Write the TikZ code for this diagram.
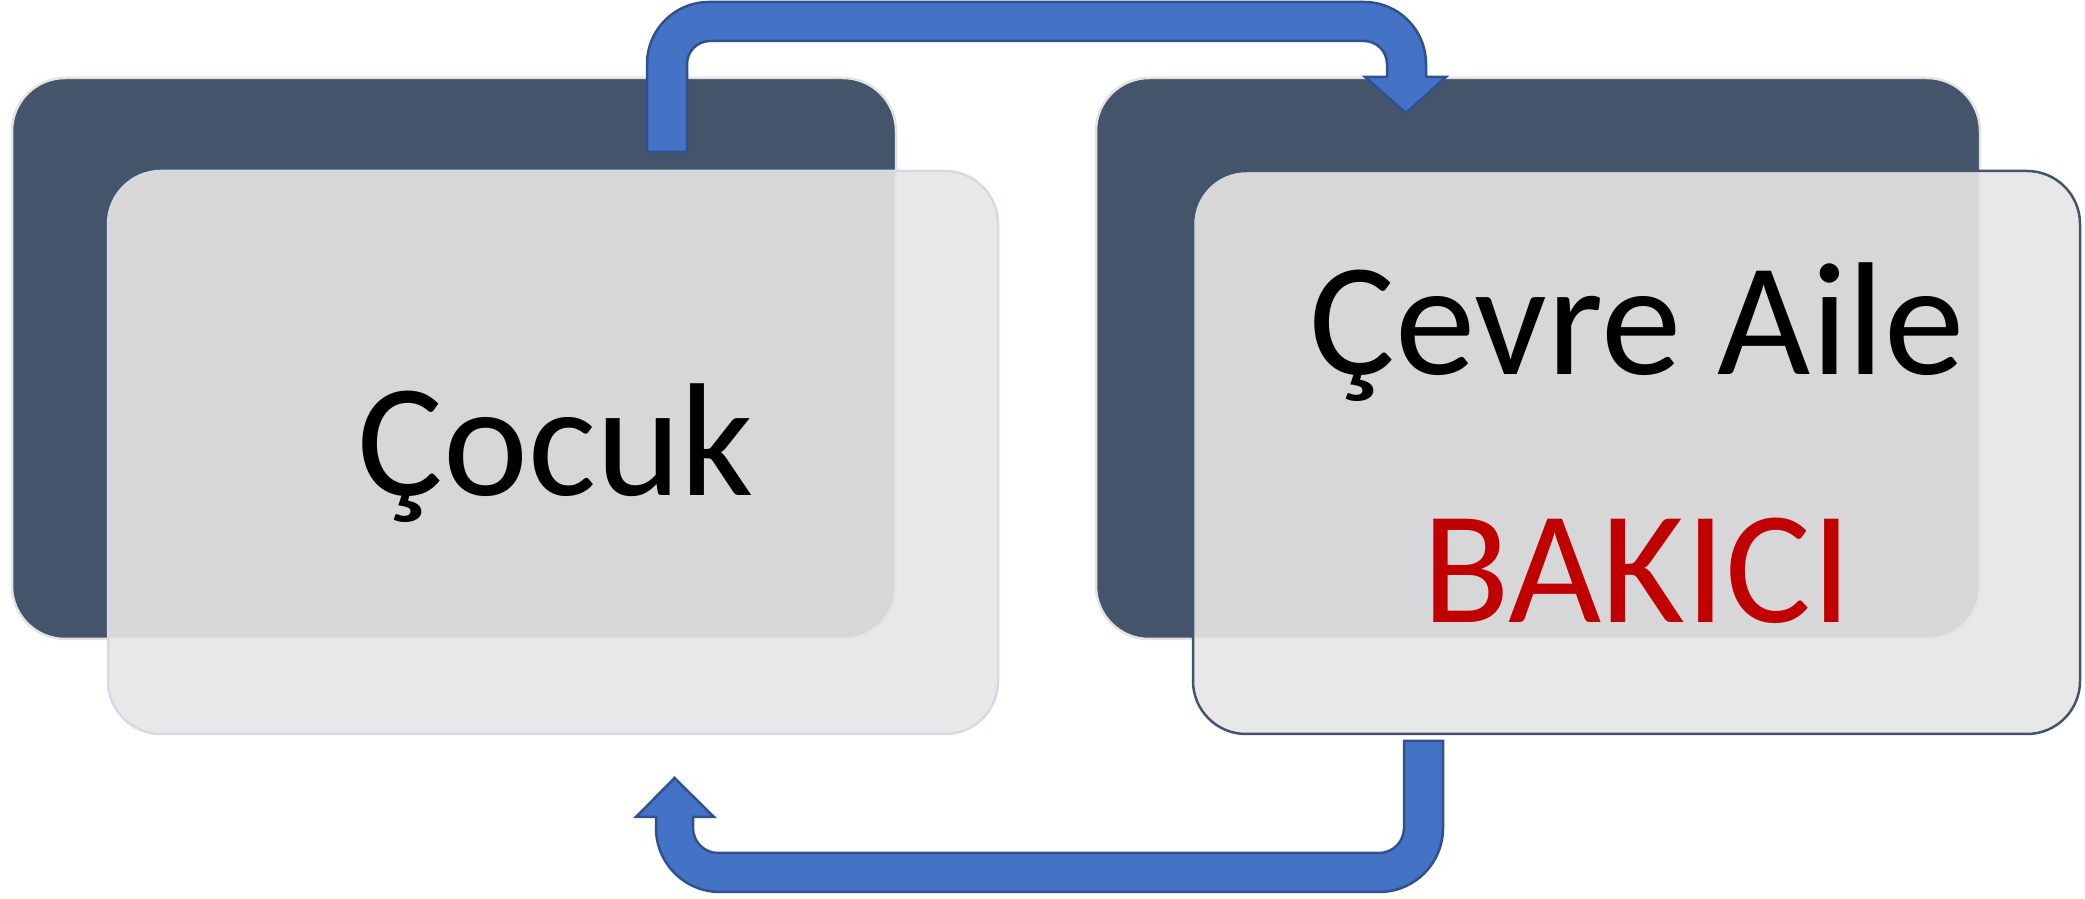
\documentclass[tikz,border=0pt]{standalone}
\usepackage{fontspec}
\setmainfont{Carlito}
\definecolor{slate}{HTML}{44546A}
\definecolor{slateedge}{HTML}{E4E3E3}
\definecolor{lightfill}{HTML}{E7E6E6}
\definecolor{lightedge}{HTML}{D3DAE5}
\definecolor{arrowfill}{HTML}{4472C4}
\definecolor{arrowedge}{HTML}{2F528F}
\definecolor{bakred}{HTML}{C00000}
\tikzset{
  darkbox/.style={rectangle, rounded corners=53pt, fill=slate, draw=slateedge, line width=2.5pt,
    minimum width=884pt, minimum height=561pt, inner sep=0pt, outer sep=0pt},
  lightbox/.style={rectangle, rounded corners=53pt, fill=lightfill, fill opacity=0.9, line width=2.5pt,
    minimum height=563pt, inner sep=0pt, outer sep=0pt},
  bigtext/.style={anchor=base, inner sep=0pt, font=\fontsize{161}{193}\selectfont},
  bentarrow/.style={fill=arrowfill, draw=arrowedge, line width=2.5pt, line join=miter}
}
\begin{document}
\begin{tikzpicture}[x=1pt,y=1pt]
\useasboundingbox (0,0) rectangle (2085,899);
% back boxes
\node[darkbox] (d1) at (454,540.5) {};
\node[darkbox] (d2) at (1538,540.5) {};
% top bent arrow
\draw[bentarrow] (647,747) -- (647,835) arc[start angle=180,end angle=90,radius=62]
  -- (1364,897) arc[start angle=90,end angle=0,radius=62]
  -- (1426,822) -- (1446,822) -- (1406,786) -- (1365,822) -- (1387,822)
  -- (1387,835) arc[start angle=0,end angle=90,radius=23]
  -- (710,858) arc[start angle=90,end angle=180,radius=23]
  -- (687,747) -- cycle;
% front boxes
\node[lightbox, draw=lightedge, minimum width=890pt] (l1) at (553,446.5) {};
\node[lightbox, draw=slate, minimum width=887pt] (l2) at (1636.5,446.5) {};
% bottom bent arrow
\draw[bentarrow] (1404,158) -- (1404,71) arc[start angle=0,end angle=-90,radius=25]
  -- (718,46) arc[start angle=270,end angle=180,radius=25]
  -- (693,82) -- (714,82) -- (674.5,121) -- (636,82) -- (656,82)
  -- (656,71) arc[start angle=180,end angle=270,radius=64]
  -- (1379,7) arc[start angle=270,end angle=360,radius=64]
  -- (1443,158) -- cycle;
% texts
\node[bigtext] (cocuk) at (556,403) {Çocuk};
\node[bigtext] (cevre) at (1637,524) {Çevre Aile};
\node[bigtext, text=bakred] (bakici) at (1637,276) {BAKICI};
\end{tikzpicture}
\end{document}
